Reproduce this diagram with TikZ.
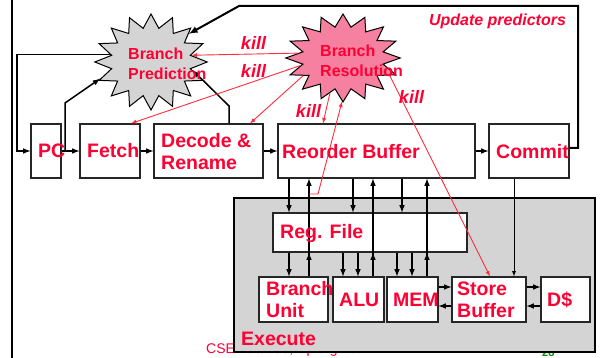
\documentclass[tikz,border=0pt]{standalone}
\usepackage{fontspec}
\setmainfont{Liberation Sans}
\usetikzlibrary{shapes.geometric, arrows}
\definecolor{slidered}{RGB}{255,0,51}
\definecolor{killred}{RGB}{255,45,60}
\definecolor{starpink}{RGB}{246,128,160}
\definecolor{execgray}{RGB}{212,212,212}
\tikzset{>=latex}
\tikzset{
  box/.style={draw=black!85, line width=1.1pt, fill=white, inner sep=0pt},
  lbl/.style={text=slidered, font=\fontsize{19.5}{22}\selectfont\bfseries, anchor=west, inner sep=0pt, align=left},
  starlbl/.style={text=slidered, font=\fontsize{16}{19.5}\selectfont\bfseries, anchor=west, inner sep=0pt, align=left},
  killlbl/.style={text=slidered, font=\fontsize{18}{20}\selectfont\bfseries\itshape, inner sep=0pt},
  flow/.style={->, line width=1.5pt, black},
  kill/.style={->, line width=0.9pt, draw=killred},
  burst/.style={star, star points=16, star point ratio=1.4, draw=black, line width=1pt, inner sep=0pt},
}

\begin{document}
\begin{tikzpicture}[x=1pt, y=-1pt]
    \useasboundingbox (0,0) rectangle (600,358);
    % Coordinates
    \coordinate (tap) at (309,194);

    % Slide edge
    \draw[line width=1.5pt] (12,0) -- (12,358);

    % Footer
    \node[text=slidered, font=\fontsize{14}{16}\selectfont, anchor=west, inner sep=0pt] (foot) at (206,350) {CSE 490/590, Spring 2011};
    \node[text=green!60!black, font=\fontsize{11}{12}\selectfont\bfseries, anchor=west, inner sep=0pt] (page) at (542,353) {28};

    % Execute
    \node[draw=black, line width=1.2pt, fill=execgray, minimum width=361, minimum height=154, inner sep=0pt] (exec) at (414.5,275) {};

    % Front end
    \node[box, minimum width=30, minimum height=54] (pc) at (46,151) {};
    \node[box, minimum width=60, minimum height=54] (fetch) at (110,151) {};
    \node[box, minimum width=109, minimum height=54] (dec) at (208.5,151) {};
    \node[box, minimum width=197, minimum height=54] (rob) at (376.5,151) {};
    \node[box, minimum width=80, minimum height=54] (commit) at (529,151) {};

    % Back end
    \node[box, minimum width=194, minimum height=39] (rf) at (370,232.5) {};
    \node[box, minimum width=69, minimum height=45] (bu) at (293.5,299.5) {};
    \node[box, minimum width=51, minimum height=45] (alu) at (358.5,299.5) {};
    \node[box, minimum width=51, minimum height=45] (mem) at (412.5,299.5) {};
    \node[box, minimum width=74, minimum height=45] (sb) at (489,299.5) {};
    \node[box, minimum width=49, minimum height=45] (dc) at (565.5,299.5) {};

    % Stars
    \node[burst, fill=black!17, minimum size=96, xscale=1.17] (bp) at (151,62) {};
    \node[burst, fill=starpink, minimum size=88, xscale=1.3] (br) at (343,58) {};

    % Pipeline
    \draw[flow] (pc) -- (fetch);
    \draw[flow] (fetch) -- (dec);
    \draw[flow] (dec) -- (rob);
    \draw[flow] (rob) -- (commit);

    % Predictor loops
    \draw[flow] (bp.168) -| (17,151) -- (pc.west);
    \draw[flow] (pc.east -| 65,0) -- (65,103) -- (bp.201);
    \draw[flow] (dec.north -| 229,0) -- (229,106) -- (bp.347);
    \draw[flow, line width=2pt] (commit.east |- 0,148) -- (578,148) -- (578,6) -- (239,6) -- (bp.41);

    % ROB and register file
    \foreach \x in {289,353,402}
        \draw[flow] (rob.south -| \x,0) -- (rf.north -| \x,0);
    \foreach \x/\u in {289/bu,343/alu,358/alu,397/mem,412/mem}
        \draw[flow] (rf.south -| \x,0) -- (\u.north -| \x,0);
    \foreach \x/\u in {309/bu,373/alu,427/mem} {
        \draw[flow] (\u.north -| \x,0) -- (rf.south -| \x,0);
        \draw[flow] (\u.north -| \x,0) -- (rob.south -| \x,0);
    }

    % Memory side
    \draw[->, line width=0.8pt] (commit.south -| 514,0) -- (sb.north -| 514,0);
    \draw[flow] (mem.east |- 0,287) -- (sb.west |- 0,287);
    \draw[flow] (sb.west |- 0,306) -- (mem.east |- 0,306);
    \draw[flow] (sb.east |- 0,287) -- (dc.west |- 0,287);
    \draw[flow] (dc.west |- 0,306) -- (sb.east |- 0,306);

    % Kills
    \draw[kill] (br.172) -- (bp.11);
    \draw[kill] (br.193) -- (fetch.north -| 131,0);
    \draw[kill] (br.210) -- (dec.north -| 250,0);
    \draw[kill] (br.254) -- (rob.north -| 323,0);
    \draw[kill] (br.334) -- (sb.north -| 490,0);
    \draw[kill] (tap) -- (318,194) -- (br.269);

    % Text
    \node[lbl] (pctext) at (38,151) {PC};
    \node[lbl] (fetchtext) at (87,151) {Fetch};
    \node[lbl] (dectext) at (161,152) {Decode \&\\Rename};
    \node[lbl] (robtext) at (282,152) {Reorder Buffer};
    \node[lbl] (committext) at (496,152) {Commit};
    \node[lbl] (rftext) at (280,234) {Reg. File};
    \node[lbl] (butext) at (266,300) {Branch\\Unit};
    \node[lbl] (alutext) at (339,300) {ALU};
    \node[lbl] (memtext) at (393,300) {MEM};
    \node[lbl] (sbtext) at (457,300) {Store\\Buffer};
    \node[lbl] (dctext) at (547,300) {D\$};
    \node[lbl] (exectext) at (241,339) {Execute};
    \node[starlbl] (bptext) at (128,64) {Branch\\Prediction};
    \node[starlbl] (brtext) at (320,61) {Branch\\Resolution};
    \node[killlbl] (k1) at (253.5,43) {kill};
    \node[killlbl] (k2) at (253.5,71) {kill};
    \node[killlbl] (k3) at (308.5,111) {kill};
    \node[killlbl] (k4) at (411.5,97) {kill};
    \node[killlbl, font=\fontsize{16}{18}\selectfont\bfseries\itshape] (upd) at (497.5,21) {Update predictors};
\end{tikzpicture}
\end{document}
